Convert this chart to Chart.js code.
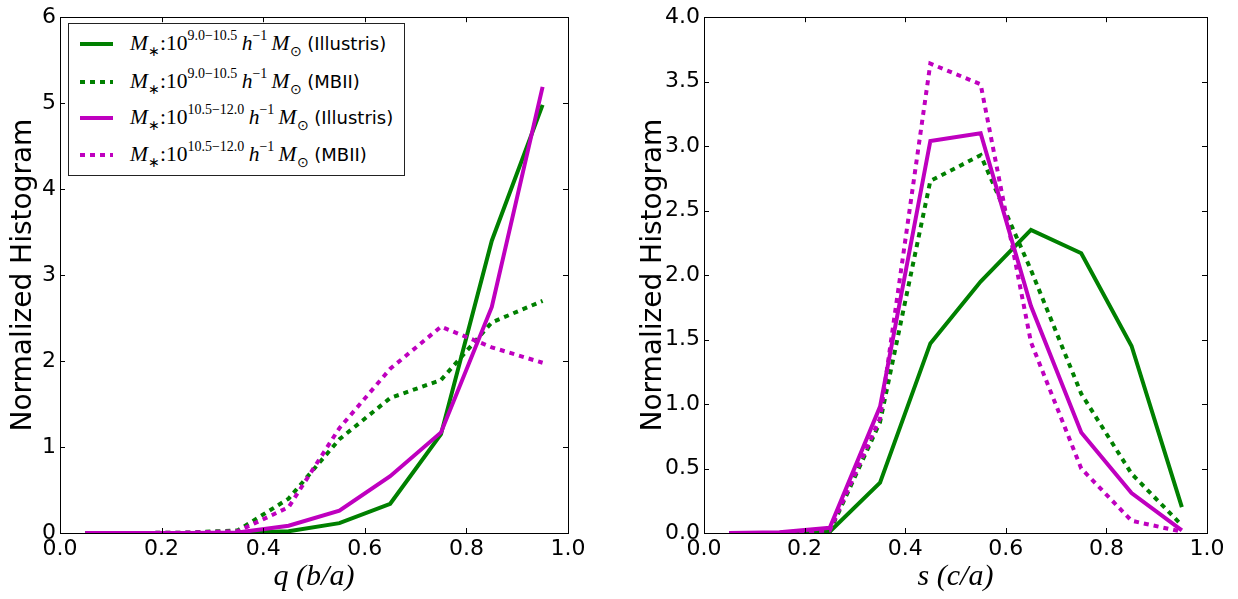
<!DOCTYPE html>
<html>
<head>
<meta charset="utf-8">
<script src="https://cdn.jsdelivr.net/npm/chart.js@4.4.0/dist/chart.umd.min.js"></script>
<style>
html, body { margin: 0; padding: 0; background: #fff; }
#wrap { position: relative; width: 1238px; height: 599px; overflow: hidden; }
.box { position: absolute; top: 0; height: 599px; }
#boxQ { left: 0; width: 600px; }
#boxS { left: 620px; width: 618px; }
#legend {
    position: absolute; left: 68px; top: 23px; width: 335px; height: 151px;
    border: 1px solid #222; background: #fff;
}
.row { position: absolute; left: 0; height: 20px; line-height: 20px; white-space: nowrap; }
.row svg { position: absolute; left: 11px; top: 8px; }
.row .txt { position: absolute; left: 61px; top: 0; font-family: "DejaVu Sans", sans-serif; font-size: 18px; color: #000; }
.m { font-family: "Liberation Serif", serif; font-size: 21.5px; }
.m i { font-style: italic; }
.m sup, .m sub { font-size: 14px; vertical-align: 0; position: relative; }
.m sup { top: -0.75em; }
.m sub { top: 0.45em; }
</style>
</head>
<body>
<div id="wrap">
    <div class="box" id="boxQ"><canvas id="qChart" width="600" height="599"></canvas></div>
    <div class="box" id="boxS"><canvas id="sChart" width="618" height="599"></canvas></div>
    <div id="legend"></div>
</div>
<script>
'use strict';

// bin centres shared by both panels
const binCenters = [0.05, 0.15, 0.25, 0.35, 0.45, 0.55, 0.65, 0.75, 0.85, 0.95];

// tick labels
const xTicks = [0.0, 0.2, 0.4, 0.6, 0.8, 1.0];
const qTicks = [0, 1, 2, 3, 4, 5, 6];
const sTicks = [0.0, 0.5, 1.0, 1.5, 2.0, 2.5, 3.0, 3.5, 4.0];

// left panel: q = b/a
const qIllustrisLow  = [0, 0, 0, 0, 0.02, 0.115, 0.34, 1.15, 3.40, 4.98];
const qMBIILow       = [0, 0, 0.005, 0.03, 0.40, 1.09, 1.57, 1.78, 2.45, 2.70];
const qIllustrisHigh = [0, 0, 0, 0.005, 0.085, 0.26, 0.66, 1.17, 2.63, 5.19];
const qMBIIHigh      = [0, 0, 0.005, 0.02, 0.30, 1.22, 1.91, 2.40, 2.16, 1.98];

// right panel: s = c/a
const sIllustrisLow  = [0, 0, 0.01, 0.39, 1.47, 1.95, 2.35, 2.17, 1.45, 0.20];
const sMBIILow       = [0, 0, 0.01, 0.86, 2.73, 2.93, 2.04, 1.08, 0.46, 0.06];
const sIllustrisHigh = [0, 0.005, 0.04, 0.98, 3.04, 3.10, 1.76, 0.78, 0.31, 0.02];
const sMBIIHigh      = [0, 0, 0.02, 0.89, 3.64, 3.48, 1.48, 0.50, 0.095, 0.01];

// legend text
const massRanges = ['9.0\u221210.5', '10.5\u221212.0'];
const simNames = ['Illustris', 'MBII'];

const GREEN = '#008000';
const MAGENTA = '#bf00bf';
const DOT = [5, 5];

function series(values, color, dotted, order) {
    return {
        data: binCenters.map((x, i) => ({ x, y: values[i] })),
        borderColor: color,
        borderWidth: 4,
        borderDash: dotted ? DOT : [],
        borderCapStyle: 'butt',
        pointRadius: 0,
        fill: false,
        tension: 0,
        order
    };
}

// box + inward ticks on all four sides, matplotlib style
const frameTicks = {
    id: 'frameTicks',
    afterDatasetsDraw(chart) {
        const { ctx, chartArea: a, scales: { x, y } } = chart;
        const L = 5;
        ctx.save();
        ctx.strokeStyle = '#000';
        ctx.lineWidth = 1;
        ctx.beginPath();
        x.ticks.forEach(t => {
            const px = Math.round(x.getPixelForValue(t.value)) + 0.5;
            ctx.moveTo(px, a.bottom); ctx.lineTo(px, a.bottom - L);
            ctx.moveTo(px, a.top); ctx.lineTo(px, a.top + L);
        });
        y.ticks.forEach(t => {
            const py = Math.round(y.getPixelForValue(t.value)) + 0.5;
            ctx.moveTo(a.left, py); ctx.lineTo(a.left + L, py);
            ctx.moveTo(a.right, py); ctx.lineTo(a.right - L, py);
        });
        ctx.stroke();
        ctx.strokeRect(Math.round(a.left) + 0.5, Math.round(a.top) + 0.5,
            Math.round(a.width), Math.round(a.height));
        ctx.restore();
    }
};

const tickFont = { family: 'DejaVu Sans', size: 22 };

function makeChart(id, datasets, opts) {
    return new Chart(document.getElementById(id), {
        type: 'line',
        data: { datasets },
        plugins: [frameTicks],
        options: {
            responsive: false,
            animation: false,
            layout: { padding: { top: 13, right: opts.padRight, left: 0, bottom: 0 } },
            plugins: { legend: { display: false }, tooltip: { enabled: false } },
            scales: {
                x: {
                    type: 'linear', min: 0, max: 1,
                    grid: { display: false, drawTicks: false },
                    border: { display: false },
                    afterBuildTicks: s => { s.ticks = xTicks.map(v => ({ value: v })); },
                    ticks: { color: '#000', font: tickFont, padding: 3, maxRotation: 0,
                        callback: v => v.toFixed(1) },
                    afterFit: s => { s.height = 66; },
                    title: {
                        display: true, text: opts.xTitle, color: '#000',
                        font: { family: 'Liberation Serif', size: 30, style: 'italic', lineHeight: 1 },
                        padding: { top: 0, bottom: 7 }
                    }
                },
                y: {
                    type: 'linear', min: 0, max: opts.yMax,
                    grid: { display: false, drawTicks: false },
                    border: { display: false },
                    afterBuildTicks: s => { s.ticks = opts.yTicks.map(v => ({ value: v })); },
                    ticks: { color: '#000', font: tickFont, padding: 4, callback: opts.yFmt },
                    afterFit: s => { s.width = opts.yWidth; },
                    title: {
                        display: true, text: 'Normalized Histogram', color: '#000',
                        font: { family: 'DejaVu Sans', size: 28, lineHeight: 1 },
                        padding: { top: opts.yTitlePad, bottom: 0 }
                    }
                }
            }
        }
    });
}

makeChart('qChart', [
    series(qIllustrisLow, GREEN, false, 4),
    series(qMBIILow, GREEN, true, 3),
    series(qIllustrisHigh, MAGENTA, false, 2),
    series(qMBIIHigh, MAGENTA, true, 1)
], {
    padRight: 32, yWidth: 60, yTitlePad: 10, yMax: 6, yTicks: qTicks,
    yFmt: v => String(v), xTitle: 'q (b/a)'
});

makeChart('sChart', [
    series(sIllustrisLow, GREEN, false, 4),
    series(sMBIILow, GREEN, true, 3),
    series(sIllustrisHigh, MAGENTA, false, 2),
    series(sMBIIHigh, MAGENTA, true, 1)
], {
    padRight: 31, yWidth: 84, yTitlePad: 20, yMax: 4, yTicks: sTicks,
    yFmt: v => v.toFixed(1), xTitle: 's (c/a)'
});

// legend (html so the math sub/superscripts stay real text)
const legendRows = [
    { color: GREEN, dotted: false, mass: massRanges[0], sim: simNames[0] },
    { color: GREEN, dotted: true, mass: massRanges[0], sim: simNames[1] },
    { color: MAGENTA, dotted: false, mass: massRanges[1], sim: simNames[0] },
    { color: MAGENTA, dotted: true, mass: massRanges[1], sim: simNames[1] }
];
const rowTops = [9, 47, 83, 120];
document.getElementById('legend').innerHTML = legendRows.map((r, i) => `
    <div class="row" style="top:${rowTops[i]}px">
        <svg width="34" height="6"><line x1="0" y1="3" x2="33" y2="3" stroke="${r.color}"
            stroke-width="4" ${r.dotted ? 'stroke-dasharray="5 5"' : ''}/></svg>
        <span class="txt"><span class="m"><i>M</i><sub>\u2217</sub>:10<sup>${r.mass}</sup>&thinsp;<i>h</i><sup>\u22121</sup>&thinsp;<i>M</i><sub>\u2299</sub></span> (${r.sim})</span>
    </div>`).join('');
</script>
</body>
</html>
